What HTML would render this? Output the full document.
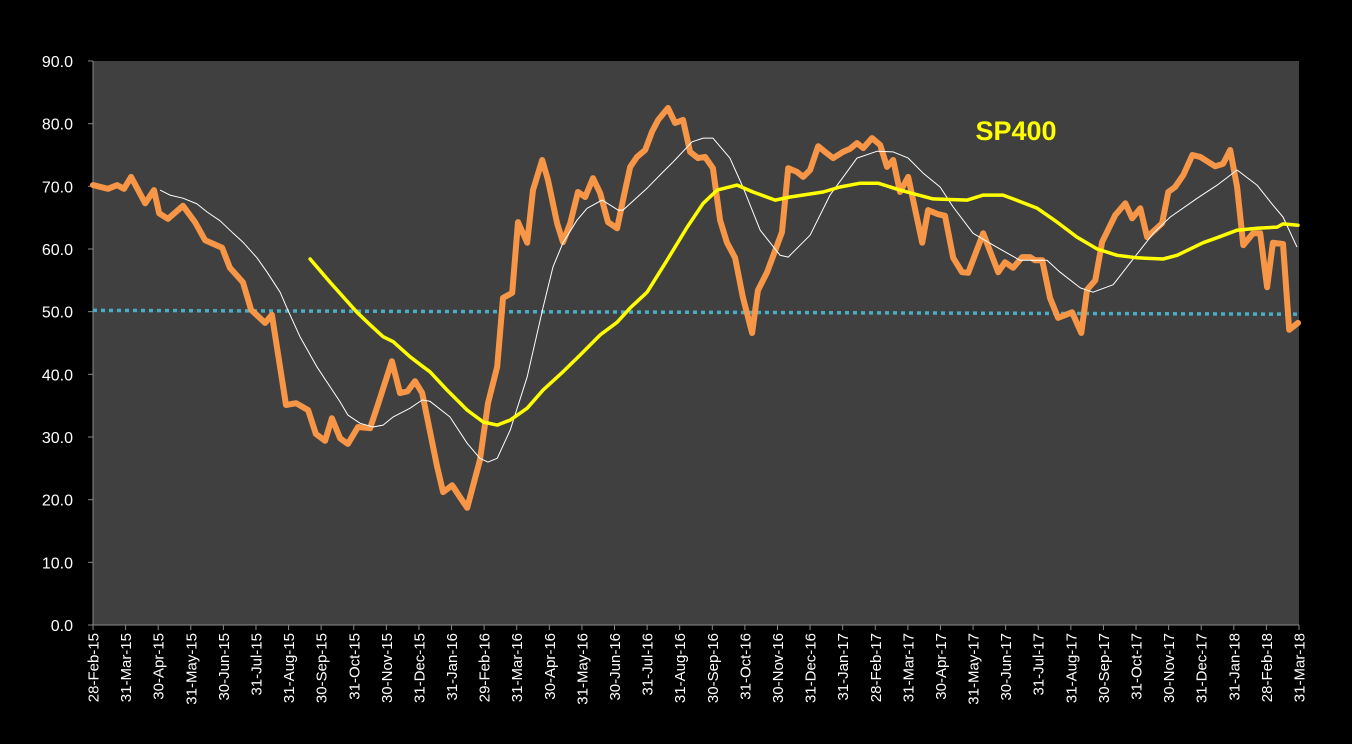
<!DOCTYPE html>
<html><head><meta charset="utf-8"><style>
html,body{margin:0;padding:0;background:#000;}
svg{display:block;font-family:"Liberation Sans",sans-serif;}
</style></head><body>
<svg id="chart" width="1352" height="744" viewBox="0 0 1352 744" xmlns="http://www.w3.org/2000/svg">
<rect x="0" y="0" width="1352" height="744" fill="#000"/>
<rect x="93" y="61" width="1206" height="564" fill="#404040"/>
<g id="yaxis"></g>
<g id="xaxis"></g>
<g id="series"></g>
<text x="1016" y="140" fill="#ffff00" font-size="27" font-weight="bold" text-anchor="middle">SP400</text>
</svg>
<script>
const yTicks = [0,10,20,30,40,50,60,70,80,90];
const xLabels = ["28-Feb-15","31-Mar-15","30-Apr-15","31-May-15","30-Jun-15","31-Jul-15","31-Aug-15","30-Sep-15","31-Oct-15","30-Nov-15","31-Dec-15","31-Jan-16","29-Feb-16","31-Mar-16","30-Apr-16","31-May-16","30-Jun-16","31-Jul-16","31-Aug-16","30-Sep-16","31-Oct-16","30-Nov-16","31-Dec-16","31-Jan-17","28-Feb-17","31-Mar-17","30-Apr-17","31-May-17","30-Jun-17","31-Jul-17","31-Aug-17","30-Sep-17","31-Oct-17","30-Nov-17","31-Dec-17","31-Jan-18","28-Feb-18","31-Mar-18"];
// time in months since 28-Feb-15
const orangeT = [0,0.46,0.74,0.95,1.17,1.6,1.87,2.03,2.3,2.76,3.13,3.44,3.96,4.2,4.6,4.85,5.28,5.49,5.92,6.23,6.6,6.84,7.12,7.33,7.58,7.82,8.13,8.5,8.75,9.17,9.42,9.65,9.88,10.1,10.56,10.74,11.02,11.26,11.48,11.87,12.12,12.4,12.58,12.86,13.04,13.32,13.5,13.78,13.96,14.24,14.42,14.64,14.88,15.1,15.34,15.56,15.8,16.08,16.26,16.48,16.69,16.94,17.15,17.34,17.64,17.86,18.1,18.32,18.56,18.78,19.02,19.24,19.45,19.7,19.94,20.22,20.4,20.68,21.14,21.33,21.6,21.79,22,22.25,22.46,22.71,23.01,23.23,23.44,23.63,23.9,24.15,24.36,24.55,24.76,25.01,25.44,25.62,25.9,26.14,26.39,26.66,26.85,27.31,27.77,27.98,28.23,28.51,28.75,28.9,29.12,29.36,29.61,30.04,30.32,30.5,30.75,30.96,31.36,31.67,31.88,32.13,32.34,32.8,32.99,33.2,33.45,33.73,33.97,34.21,34.43,34.67,34.89,35.1,35.29,35.59,35.81,36.02,36.2,36.51,36.7,36.97];
const orangeV = [70.2,69.6,70.2,69.6,71.5,67.3,69.4,65.7,64.8,66.9,64.3,61.4,60.2,57,54.7,50.3,48.2,49.5,35.1,35.4,34.3,30.5,29.4,33,29.8,28.9,31.6,31.4,35.3,42.1,37,37.3,38.9,37,25.2,21.2,22.3,20.4,18.7,26.3,35.4,41.2,52.2,53,64.3,61,69.4,74.2,71,64.1,61.1,64.1,69.1,68.3,71.3,68.9,64.3,63.3,67.8,73.1,74.7,75.8,78.7,80.6,82.5,80.1,80.6,75.5,74.5,74.7,72.9,64.6,61,58.6,52.3,46.6,53.4,56.3,62.7,72.9,72.3,71.5,72.6,76.4,75.5,74.5,75.5,76,76.9,76.1,77.7,76.6,73.1,74.2,69.1,71.5,61,66.2,65.6,65.3,58.6,56.3,56.2,62.5,56.3,57.9,57,58.7,58.7,58.2,58.2,52.2,49,49.9,46.6,53.5,55,61.1,65.4,67.3,64.9,66.5,61.9,64.1,69.1,69.9,71.8,75,74.7,73.9,73.2,73.6,75.8,69.9,60.6,62.5,62.5,53.9,61,60.8,47.1,48.2];
const whiteT = [2.06,2.36,2.76,3.19,3.5,3.9,4.3,4.6,5.03,5.34,5.74,5.95,6.35,6.87,7.58,7.82,8.19,8.59,8.9,9.21,9.73,10.1,10.34,10.95,11.48,11.87,12.12,12.4,12.8,13.32,13.81,14.11,14.42,14.85,15.16,15.62,16.11,16.26,17,17.49,17.8,18.38,18.72,19.02,19.54,19.94,20.47,21.08,21.33,22,22.61,23.44,24.06,24.55,25.01,25.47,25.99,26.39,27,27.62,28.44,29.27,29.67,30.29,30.68,31.3,31.82,32.53,33.05,33.88,34.49,35.1,35.71,36.2,36.51,36.94];
const whiteV = [69.4,68.6,68.1,67.2,65.9,64.5,62.5,61.1,58.6,56.3,53.1,50.6,46,41.2,35.6,33.5,32.2,31.6,31.9,33.2,34.6,35.9,35.7,33.2,29,26.6,26,26.6,31.1,39.6,50.7,57.1,61,64.6,66.5,67.8,66.2,66.2,69.7,72.3,73.9,77.1,77.7,77.7,74.5,69.9,63,59,58.7,62.2,68.6,74.5,75.6,75.5,74.5,72.1,69.9,66.7,62.5,60.6,58.2,58.2,56.3,53.8,53.1,54.3,57.8,62.5,65.1,68.1,70.2,72.6,70.2,67,65.1,60.3];
const yellowT = [6.66,7.27,8.1,8.5,8.9,9.21,9.73,10.13,10.34,10.86,11.48,11.97,12.4,12.8,13.32,13.81,14.42,14.95,15.56,16.08,16.48,17,17.61,18.23,18.72,19.15,19.76,20.25,20.93,21.39,22.4,22.92,23.54,24.09,24.76,25.77,26.82,27.31,27.92,28.23,28.97,29.58,30.19,30.81,31.42,32.03,32.83,33.26,34.06,34.49,35.1,35.71,36.33,36.51,36.97];
const yellowV = [58.4,54.7,49.9,47.9,46,45.2,42.8,41.2,40.4,37.5,34.3,32.4,31.9,32.7,34.6,37.5,40.4,43.1,46.3,48.3,50.6,53.1,58.2,63.5,67.3,69.4,70.2,69.1,67.8,68.3,69.1,69.9,70.5,70.5,69.4,68,67.8,68.6,68.6,68,66.5,64.3,61.9,60,59,58.6,58.4,59,61,61.8,63,63.3,63.5,64,63.8];
const blueT = [0,37];
const blueV = [50.2,49.6];

const NS = "http://www.w3.org/2000/svg";
const X0 = 93, X1 = 1299, Y0 = 625, Y1 = 61, TMAX = 37, VMAX = 90;
const xs = t => X0 + t * (X1 - X0) / TMAX;
const ys = v => Y0 - v * (Y0 - Y1) / VMAX;
function mk(tag, attrs, parent){ const e=document.createElementNS(NS,tag); for(const k in attrs) e.setAttribute(k,attrs[k]); parent.appendChild(e); return e; }

const yax = document.getElementById('yaxis');
const la = mk('line',{x1:X0,y1:Y1,x2:X0,y2:Y0,stroke:'#888','stroke-width':1},yax);


yTicks.forEach(v=>{
  const tk = mk('line',{x1:X0-5,y1:ys(v),x2:X0,y2:ys(v),stroke:'#888'},yax);
  
  
  const t = mk('text',{x:73,y:ys(v)+6,fill:'#fff','font-size':16,'text-anchor':'end'},yax);
  t.textContent = v.toFixed(1);
  
  
});
const xax = document.getElementById('xaxis');
const lb = mk('line',{x1:X0,y1:Y0,x2:X1,y2:Y0,stroke:'#888'},xax);


xLabels.forEach((s,i)=>{
  const x = xs(i);
  const tk = mk('line',{x1:x,y1:Y0,x2:x,y2:Y0+5,stroke:'#888'},xax);
  
  
  const t = mk('text',{x:0,y:0,fill:'#fff','font-size':15,'text-anchor':'end',transform:`translate(${x+5.5},${Y0+8}) rotate(-90)`},xax);
  t.textContent = s;
  
  
});
const sg = document.getElementById('series');
function pts(T,V){ return T.map((t,i)=>xs(t).toFixed(1)+','+ys(V[i]).toFixed(1)).join(' '); }
const blue = mk('polyline',{points:pts(blueT,blueV),fill:'none',stroke:'#4bacc6','stroke-width':3.5,'stroke-dasharray':'4 4'},sg);


const orange = mk('polyline',{points:pts(orangeT,orangeV),fill:'none',stroke:'#f79646','stroke-width':6,'stroke-linejoin':'round','stroke-linecap':'round'},sg);


const white = mk('polyline',{points:pts(whiteT,whiteV),fill:'none',stroke:'#ffffff','stroke-width':1,'stroke-linejoin':'round'},sg);


const yellow = mk('polyline',{points:pts(yellowT,yellowV),fill:'none',stroke:'#ffff00','stroke-width':3.5,'stroke-linejoin':'round','stroke-linecap':'round'},sg);


</script>
</body></html>
